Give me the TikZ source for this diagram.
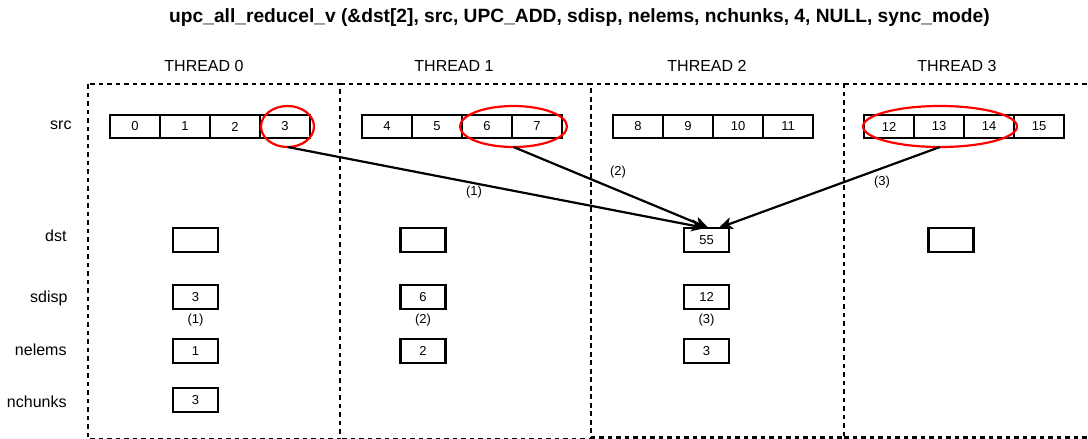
\documentclass[tikz,border=0pt]{standalone}
\usepackage{fontspec}
\setmainfont{Liberation Sans}
\usetikzlibrary{arrows.meta,positioning,shapes.geometric}

\begin{document}
\begin{tikzpicture}[x=1pt,y=-1pt,
  font=\fontsize{13}{15}\selectfont, line width=2.2pt, node distance=0pt,
  c/.style={draw,minimum width=50pt,minimum height=23.5pt,inner sep=0pt,outer sep=0pt},
  v/.style={draw,minimum width=45pt,minimum height=24pt,inner sep=0pt,outer sep=0pt},
  lb/.style={font=\fontsize{16}{18}\selectfont,anchor=base east},
  th/.style={font=\fontsize{16}{18}\selectfont,anchor=base},
  fr/.style={draw,dash pattern=on 4.5pt off 4pt},
  ring/.style={draw=red,ellipse,inner sep=0pt,outer sep=0pt},
  a/.style={-{Stealth[length=14pt,width=12pt,inset=3.5pt]}}]
\useasboundingbox (0,0) rectangle (1088,439);
% title and thread headers
\node[font=\bfseries\fontsize{19.2}{21}\selectfont,anchor=base] (ttl) at (579.5,22.7)
  {upc\_all\_reducel\_v (\&dst[2], src, UPC\_ADD, sdisp, nelems, nchunks, 4, NULL, sync\_mode)};
\node[th] (h0) at (204,71.5) {THREAD 0};
\node[th] (h1) at (454,71.5) {THREAD 1};
\node[th] (h2) at (707,71.5) {THREAD 2};
\node[th] (h3) at (957,71.5) {THREAD 3};
% thread frames
\draw[fr] (88,84) rectangle (340,438.8);
\draw[fr] (340,84) -- (591,84) -- (591,438.8) -- (340,438.8);
\draw[fr,dash phase=4pt] (591,84) rectangle (844,437.5);
\draw[fr] (844,84) -- (1095,84) (1095,437.5) -- (844,437.5);
% row labels
\node[lb] (lsrc) at (76,129.5) {src};
\node[lb] (ldst) at (71,241) {dst};
\node[lb] (lsd) at (72,302) {sdisp};
\node[lb] (lne) at (71,355) {nelems};
\node[lb] (lnc) at (71,407) {nchunks};
% src arrays
\node[c] (c0) at (135,126.5) {0};
\node[c,right=of c0] (c1) {1};
\node[c,right=of c1] (c2) {2};
\node[c,right=of c2] (c3) {3};
\node[c] (c4) at (387,126.5) {4};
\node[c,right=of c4] (c5) {5};
\node[c,right=of c5] (c6) {6};
\node[c,right=of c6] (c7) {7};
\node[c] (c8) at (638,126.5) {8};
\node[c,right=of c8] (c9) {9};
\node[c,right=of c9] (c10) {10};
\node[c,right=of c10] (c11) {11};
\node[c] (c12) at (889,126.5) {12};
\node[c,right=of c12] (c13) {13};
\node[c,right=of c13] (c14) {14};
\node[c,right=of c14] (c15) {15};
% selected chunks
\node[ring,minimum width=53pt,minimum height=41pt] (e0) at (287.5,126.5) {};
\node[ring,minimum width=107pt,minimum height=41pt] (e1) at (513.5,126.5) {};
\node[ring,minimum width=154pt,minimum height=41pt] (e3) at (940,126.5) {};
% dst
\node[v] (d0) at (195.5,240) {};
\node[v] (d1) at (423,240) {};
\node[v] (d2) at (706.5,240) {55};
\node[v] (d3) at (951,240) {};
% sdisp, nelems, nchunks
\node[v,below=33pt of d0] (s0) {3};
\node[v,below=33pt of d1] (s1) {6};
\node[v,below=33pt of d2] (s2) {12};
\node[below=1pt of s0] (k0) {(1)};
\node[below=1pt of s1] (k1) {(2)};
\node[below=1pt of s2] (k2) {(3)};
\node[v,below=30pt of s0] (n0) {1};
\node[v,below=30pt of s1] (n1) {2};
\node[v,below=30pt of s2] (n2) {3};
\node[v,below=25pt of n0] (m0) {3};
% reduction arrows
\draw[a] (e0.south) -- ([xshift=-1pt]d2.north);
\draw[a] (e1.south) -- ([xshift=2pt]d2.north);
\draw[a] (e3.south) -- ([xshift=12pt]d2.north);
\node (p1) at (474,192) {(1)};
\node (p2) at (618,172) {(2)};
\node (p3) at (882,182) {(3)};
\end{tikzpicture}
\end{document}
